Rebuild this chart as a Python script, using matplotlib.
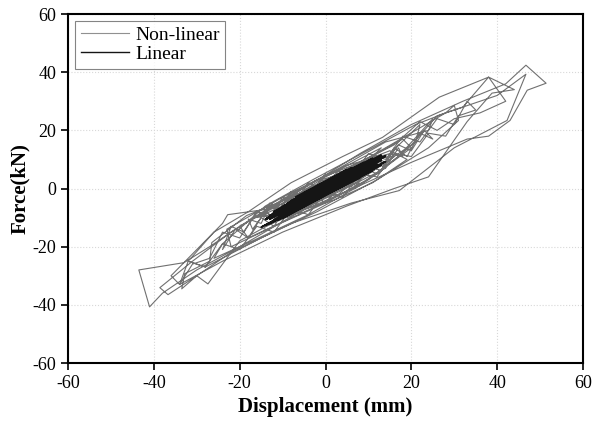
import matplotlib
matplotlib.use("Agg")
import matplotlib.pyplot as plt

# Non-linear response (displacement mm, force kN)
nl_x = [0, 8, 2, -9, -1, 11, 3, -12, 0, 13, 5, -6, -14, -3, 9, 16, 6, -5, -16, -4, 7, 18, 20, 10, -2, -18, -20, -7,
        5, 15, 22, 21, 12, 0, -12, -22, -23, -10, 2, 14, 24, 25, 17, 8, -4, -17, -26, -24, -14, -3, 11, 21, 28, 30,
        31, 24, 12, -2, -15, -28, -32, -26, -18, -8, 4, 13.3, 26.5, 38, 44, 38.8, 33, 24, 16, 5, -10, -24, -34, -36,
        -33, -24, -22.8, -13, -4, 8, 20, 32, 42, 46.7, 51.4, 47, 43, 38, 33, 20, 8, -6, -20, -30, -38, -41, -43.5,
        -33, -27, -20, -10, 2, 14, 28, 40, 46.7, 42.3, 30, 17.2, 6, -8, -22, -30, -33.5, -32.8, -27, -26.5, -18.4,
        -8, 4, 16, 22, 26, 30, 36, 42, 38, 32, 26, 20, 10, 0, -10, -20, -27.4, -30, -36.7, -38.6, -31, -22, -12, -2,
        8, 15, 19, 11, 2, -7, -13, -6, 4, 12, 14, 6, -3, -11, -8, 0, 9, 6,
        0, 2, 4, 6, 8, 10, 7, 5, 2, 0, -3, -5, -8, -10, -7, -5, -2, 1, 3,
        6, 9, 12, 14, 12, 9, 6, 3, 0, -3, -6, -9, -12, -14, -13, -10, -7, -4, -1, 2,
        5, 8, 11, 14, 17, 18, 15, 13, 10, 7, 4, 1, -2, -5, -8, -11, -14, -17, -18, -15, -13, -10, -7, -4, -1, 2,
        5, 8, 11, 14, 17, 20, 23, 25, 22, 19, 16, 13, 10, 7, 4, 0, -3, -6, -9, -12, -15, -18, -21, -24, -22, -19,
        -16, -13, -10, -7, -4, -1, 3, 6, 10, 14, 18, 22, 26, 30, 33, 35, 31, 28, 24, 20, 16, 12, 8, 4, 0, -4, -8,
        -12, -16, -20, -24, -28, -32, -34, -31, -27, -24, -20, -16, -12, -8, -4, 0]
nl_y = [0, 9, -1, -10, 3, 8, -2, -7, 4, 14, 2, -8, -13, 0, 10, 11, 1, -7, -10, -2, 8, 17, 14, 3, -6, -17, -13, -1,
        8, 12, 22, 16, 5, -5, -13, -20, -14, -3, 6, 16, 20, 24, 11, 1, -9, -18, -24, -19, -6, 3, 14, 22, 26, 28.6,
        23.4, 14, 3, -8, -17, -27, -25, -15, -8, 2, 11, 17.6, 31.4, 38.3, 34, 32.8, 23, 4, 0, -6, -15, -25, -33, -30,
        -25.5, -12, -9, -7, 1, 12, 22, 30, 36, 42.4, 36.2, 33.8, 23.4, 18, 17, 9, 1, -8, -20, -28, -36, -40.7, -28,
        -25.5, -20, -13, -5, 4, 14, 26, 32, 39.3, 23.4, 14, -0.7, -5, -12, -22, -30, -34.5, -29.3, -25, -18.6, -9.3,
        -3, 6, 15, 23, 20, 24, 26, 30, 38.3, 28, 25, 15, 5, -3, -10, -18, -32.8, -30, -36.5, -34.1, -25, -15, -6, 3,
        9, 13, 10, 2, -4, -8, -12, -3, 5, 11, 7, 1, -4, -9, -3, 2, 8, 4,
        0, 3, 1.5, 5.5, 4, 8, 4.5, 5, 0, 1.5, -3.5, -2, -7, -5.5, -6.5, -2, -3, 2, 0.5,
        6, 4.5, 10, 8, 5, 7, 2, 3.5, -2, 0, -6, -4, -10, -8, -5, -7, -2, -3, 2, 0,
        5.5, 3, 9.5, 7, 14, 11, 12, 6, 8, 1, 3, -3, -1, -7, -4.5, -11, -8, -14, -10.5, -12, -6, -8, -1.5, -3.5, 3, 1,
        7, 4, 11, 9, 15, 13, 20, 17, 19, 11, 14, 6, 8, 0, 2, -5, -2, -9, -6, -13, -10, -17, -14, -21, -13, -15,
        -8, -10, -3, -5, 2, 0, 6, 4, 12, 10, 18, 16, 24, 22, 30, 27, 25, 18, 19, 11, 12, 4, 5, -3, -1, -9, -7,
        -15, -13, -21, -19, -27, -25, -33, -26, -24, -15, -17, -8, -10, -1, -3, 5]

# Linear model response
lin_x = [0, 6, -5, 9, -8, 11, -10, 12, -12, 13, -13, 14, -14, 13, -12, 10, -9, 8, -7, 12, -11, 14, -15, 13, -13, 11,
         -10, 9, -11, 13, -14, 12, -12, 10, -8, 7, -6, 11, -13, 14, -14, 12, -11, 9, -10, 13, -12, 11, -9, 6, -4, 5, -7,
         10, -12, 13, -13, 12, -10, 8, 0]
lin_y = [0, 7.1, -1.5, 9.0, -4.2, 10.2, -6.2, 10.6, -8.2, 10.9, -9.3, 11.3, -10.5, 10.1, -9.4, 7.4, -7.4, 5.4, -6.3,
         8.2, -9.8, 9.3, -13.3, 8.1, -12.1, 6.2, -10.2, 4.8, -10.8, 8.3, -12.7, 8.0, -10.8, 6.8, -7.2, 4.9, -5.3, 8.4,
         -10.3, 11.1, -10.7, 10.0, -8.0, 8.0, -6.8, 11.5, -8.0, 10.4, -5.2, 6.9, -0.9, 6.5, -2.9, 9.3, -7.9, 9.6, -10.6,
         7.9, -9.3, 3.6, 0]

x_ticks = [-60, -40, -20, 0, 20, 40, 60]
y_ticks = [-60, -40, -20, 0, 20, 40, 60]

plt.rcParams['font.family'] = ['Liberation Serif', 'DejaVu Serif']
plt.rcParams['axes.unicode_minus'] = False

fig = plt.figure(figsize=(5.94, 4.22), dpi=100)
ax = fig.add_axes([0.1145, 0.1398, 0.867, 0.827])

ax.plot(nl_x, nl_y, color='#707070', lw=0.8, label='Non-linear', zorder=2)
ax.plot(lin_x, lin_y, color='#151515', lw=1.2, label='Linear', zorder=3)

ax.set_xlim(-60, 60)
ax.set_ylim(-60, 60)
ax.set_xticks(x_ticks)
ax.set_yticks(y_ticks)
ax.tick_params(axis='both', direction='out', length=5, width=1.2, labelsize=13, colors='black')
ax.grid(True, color='#d8d8d8', linestyle=':', linewidth=0.8)
ax.set_axisbelow(True)
for s in ax.spines.values():
    s.set_linewidth(1.5)

ax.set_xlabel('Displacement (mm)', fontsize=15, fontweight='bold', labelpad=4)
ax.set_ylabel('Force(kN)', fontsize=15, fontweight='bold', labelpad=2)

leg = ax.legend(loc='upper left', fontsize=14, frameon=True, fancybox=False, edgecolor='#666666',
                handlelength=2.5, handletextpad=0.3, borderpad=0.3, labelspacing=0.05, borderaxespad=0.35)
leg.get_frame().set_linewidth(0.8)
leg.legend_handles[0].set_color('#909090')
leg.legend_handles[1].set_linewidth(1.0)

fig.savefig('out.png', dpi=100)
